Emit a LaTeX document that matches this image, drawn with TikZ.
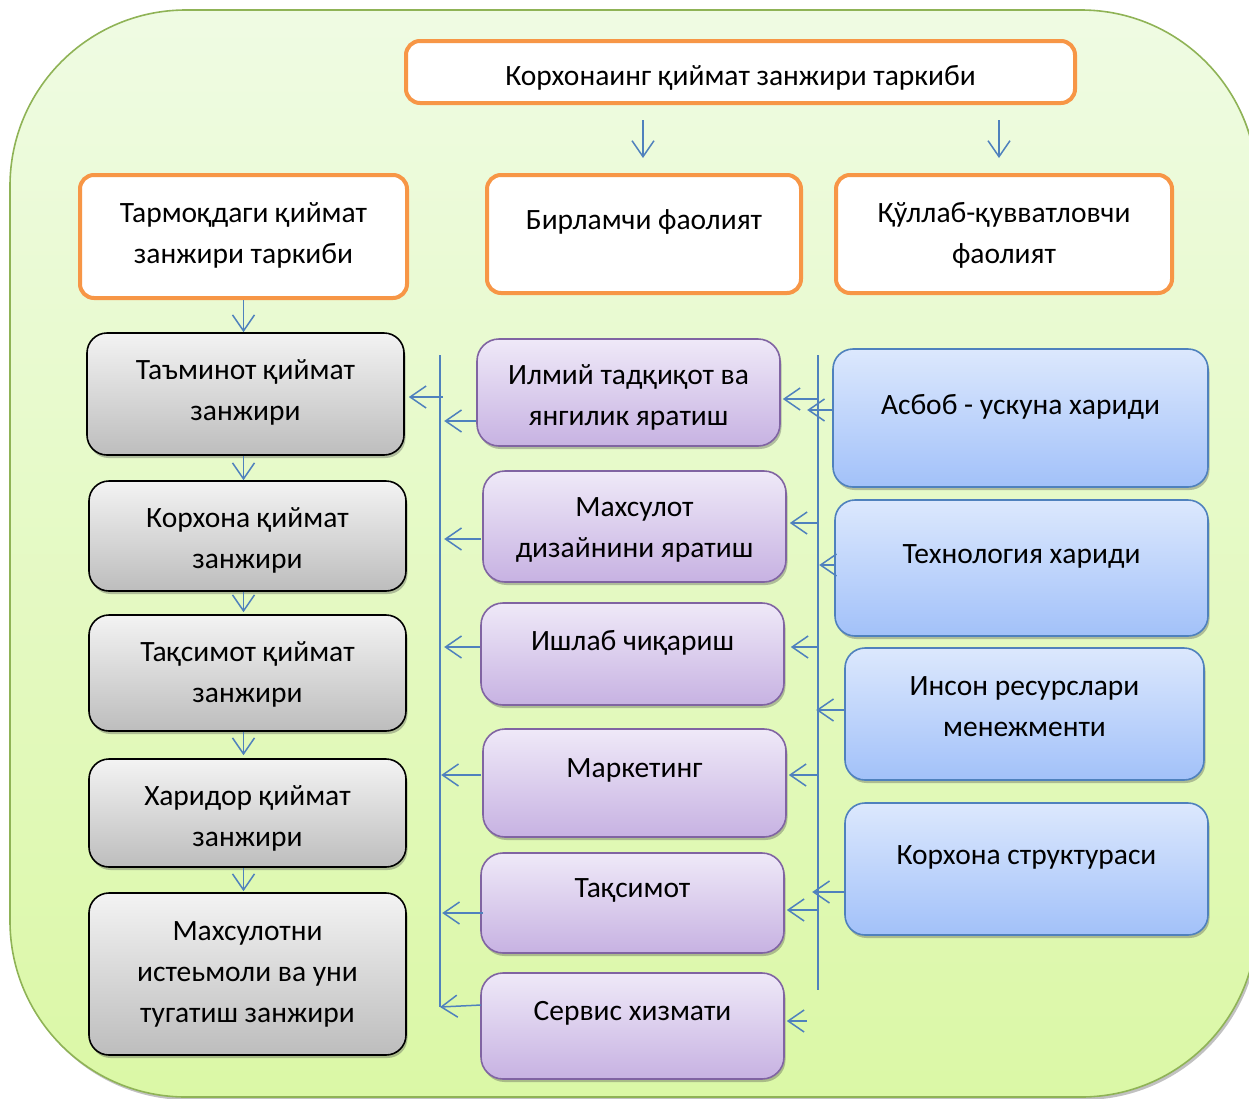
\documentclass[tikz,border=0pt]{standalone}
\usepackage{fontspec}
\setmainfont{Carlito}
\usetikzlibrary{arrows.meta,shadows}
\definecolor{bgtop}{HTML}{EFFBE3}
\definecolor{bgbot}{HTML}{DBF8A6}
\definecolor{bgline}{HTML}{8FB356}
\definecolor{myorange}{HTML}{F79646}
\definecolor{gtop}{HTML}{F3F3F3}
\definecolor{gbot}{HTML}{BDBDBD}
\definecolor{ptop}{HTML}{EFE9F8}
\definecolor{pbot}{HTML}{C7B2E2}
\definecolor{pline}{HTML}{8064A2}
\definecolor{btop}{HTML}{DCE8FD}
\definecolor{bbot}{HTML}{A2C1F9}
\definecolor{bline}{HTML}{4F81BD}
\definecolor{arrowc}{HTML}{4F81BD}
\begin{document}
\begin{tikzpicture}[x=1pt,y=-1pt,
  shad/.style={drop shadow={shadow xshift=1.5pt,shadow yshift=-3pt,opacity=0.35,fill=black!70}},
  obox/.style={rectangle,draw=myorange,line width=4pt,fill=white,rounded corners=14pt,inner sep=0pt},
  gbox/.style={rectangle,draw=black,line width=1.6pt,top color=gtop,bottom color=gbot,rounded corners=20pt,inner sep=0pt,shad},
  pbox/.style={rectangle,draw=pline,line width=1.6pt,top color=ptop,bottom color=pbot,rounded corners=22pt,inner sep=0pt,shad},
  bbox/.style={rectangle,draw=bline,line width=1.6pt,top color=btop,bottom color=bbot,rounded corners=20pt,inner sep=0pt,shad},
  txt/.style={font=\fontsize{29.5}{41}\selectfont,align=center,inner sep=0pt,text=black,yshift=-2.5pt},
  arr/.style={draw=arrowc,line width=1.5pt,-{Straight Barb[length=16pt,width=22pt]}},
  arrb/.style={draw=arrowc,line width=1.5pt,{Straight Barb[length=16pt,width=22pt]}-},
  vline/.style={draw=arrowc,line width=1.5pt}
]
\useasboundingbox (0,0) rectangle (1249,1098);
\clip (0,0) rectangle (1249,1098);
% background
\path[draw=bgline,line width=1.6pt,top color=bgtop,bottom color=bgbot,rounded corners=176pt,
  drop shadow={shadow xshift=2pt,shadow yshift=-3pt,opacity=0.35,fill=black!70}]
  (10,10) rectangle (1257,1097);

% top box
\node[obox,minimum width=669pt,minimum height=62pt] (top) at (740.5,72) {};
\node[txt] (topt) at (740.5,75) {Корхонаинг қиймат занжири таркиби};

% orange boxes
\node[obox,minimum width=327pt,minimum height=123pt] (oL) at (243.5,236.5) {};
\node[txt] (oLt) at (243.5,232.5) {Тармоқдаги қиймат\\занжири таркиби};
\node[obox,minimum width=314pt,minimum height=118pt] (oM) at (644,234) {};
\node[txt] (oMt) at (644,219) {Бирламчи фаолият};
\node[obox,minimum width=336pt,minimum height=118pt] (oR) at (1004,234) {};
\node[txt] (oRt) at (1004,232.5) {Қўллаб-қувватловчи\\фаолият};

% gray boxes
\node[gbox,minimum width=317pt,minimum height=122pt] (g1) at (245.5,394) {};
\node[txt] (g1t) at (245.5,389.5) {Таъминот қиймат\\занжири};
\node[gbox,minimum width=317pt,minimum height=110pt] (g2) at (247.5,536) {};
\node[txt] (g2t) at (247.5,537.5) {Корхона қиймат\\занжири};
\node[gbox,minimum width=317pt,minimum height=116pt] (g3) at (247.5,673) {};
\node[txt] (g3t) at (247.5,671.5) {Тақсимот қиймат\\занжири};
\node[gbox,minimum width=317pt,minimum height=108pt] (g4) at (247.5,813) {};
\node[txt] (g4t) at (247.5,815.5) {Харидор қиймат\\занжири};
\node[gbox,minimum width=317pt,minimum height=162pt] (g5) at (247.5,974) {};
\node[txt] (g5t) at (247.5,972) {Махсулотни\\истеьмоли ва уни\\тугатиш занжири};

% purple boxes
\node[pbox,minimum width=303pt,minimum height=107pt] (p1) at (628.5,392.5) {};
\node[txt] (p1t) at (628.5,394.5) {Илмий тадқиқот ва\\янгилик яратиш};
\node[pbox,minimum width=303pt,minimum height=111pt] (p2) at (634.5,526.5) {};
\node[txt] (p2t) at (634.5,527.5) {Махсулот\\дизайнини яратиш};
\node[pbox,minimum width=303pt,minimum height=102pt] (p3) at (632.5,654) {};
\node[txt] (p3t) at (632.5,640) {Ишлаб чиқариш};
\node[pbox,minimum width=303pt,minimum height=108pt] (p4) at (634.5,783) {};
\node[txt] (p4t) at (634.5,768) {Маркетинг};
\node[pbox,minimum width=303pt,minimum height=100pt] (p5) at (632.5,903) {};
\node[txt] (p5t) at (632.5,888) {Тақсимот};
\node[pbox,minimum width=303pt,minimum height=106pt] (p6) at (632.5,1026) {};
\node[txt] (p6t) at (632.5,1011) {Сервис хизмати};

% blue boxes
\node[bbox,minimum width=375pt,minimum height=138pt] (b1) at (1020.5,418) {};
\node[txt] (b1t) at (1020.5,404) {Асбоб - ускуна хариди};
\node[bbox,minimum width=373pt,minimum height=136pt] (b2) at (1021.5,568) {};
\node[txt] (b2t) at (1021.5,554) {Технология хариди};
\node[bbox,minimum width=359pt,minimum height=132pt] (b3) at (1024.5,714) {};
\node[txt] (b3t) at (1024.5,704.5) {Инсон ресурслари\\менежменти};
\node[bbox,minimum width=363pt,minimum height=132pt] (b4) at (1026.5,869) {};
\node[txt] (b4t) at (1026.5,855) {Корхона структураси};

% arrows from top box
\coordinate (ta1) at (643,120);
\coordinate (ta2) at (999,120);
\draw[arr] (ta1) -- ++(0,38);
\draw[arr] (ta2) -- ++(0,38);

% left chain
\draw[arr] (oL.south) -- (oL.south |- g1.north);
\draw[arr] ([xshift=-2pt]g1.south) -- ([xshift=-2pt]g1.south |- g2.north);
\draw[arr] ([xshift=-4pt]g2.south) -- ([xshift=-4pt,yshift=2pt]g2.south |- g3.north);
\draw[arr] ([xshift=-4pt]g3.south) -- ([xshift=-4pt,yshift=3pt]g3.south |- g4.north);
\draw[arr] ([xshift=-4pt]g4.south) -- ([xshift=-4pt,yshift=1pt]g4.south |- g5.north);

% left vertical line
\coordinate (L1) at (440,355);
\coordinate (L2) at (440,1007);
\draw[vline] (L1) -- (L2);
\draw[arrb] ([xshift=4pt,yshift=-3pt]g1.east) -- ++(34,0);

% middle -> left line
\draw[arr] ([yshift=-28.5pt]p1.west) -- ++(-32,0);
\draw[arr] ([xshift=-1pt,yshift=-12.5pt]p2.west) -- ++(-37,0);
\draw[arr] ([yshift=7pt]p3.west) -- ++(-36,0);
\draw[arr] ([xshift=-1pt,yshift=8pt]p4.west) -- ++(-40,0);
\draw[arr] ([xshift=3pt,yshift=-10pt]p5.west) -- ++(-41,0);
\draw[arr] ([xshift=1pt,yshift=21pt]p6.west) -- (L2);

% right vertical line
\coordinate (R1) at (818,355);
\coordinate (R2) at (818,990);
\draw[vline] (R1) -- (R2);

% right line -> middle
\draw[arrb] ([xshift=2pt,yshift=-6.5pt]p1.east) -- ++(36,0);
\draw[arrb] ([xshift=3pt,yshift=3.5pt]p2.east) -- ++(29,0);
\draw[arrb] ([xshift=6pt,yshift=7pt]p3.east) -- ++(28,0);
\draw[arrb] ([xshift=2pt,yshift=8pt]p4.east) -- ++(29,0);
\draw[arrb] ([xshift=2pt,yshift=-7pt]p5.east) -- ++(32,0);
\draw[arrb] ([xshift=2pt,yshift=5pt]p6.east) -- ++(20,0);

% blue -> right line
\draw[arr] ([yshift=8pt]b1.west) -- ++(-25,0);
\draw[arr] ([yshift=3pt]b2.west) -- ++(-15,0);
\draw[arr] ([yshift=4pt]b3.west) -- ++(-28,0);
\draw[arr] ([yshift=-23pt]b4.west) -- ++(-32,0);
\end{tikzpicture}
\end{document}
